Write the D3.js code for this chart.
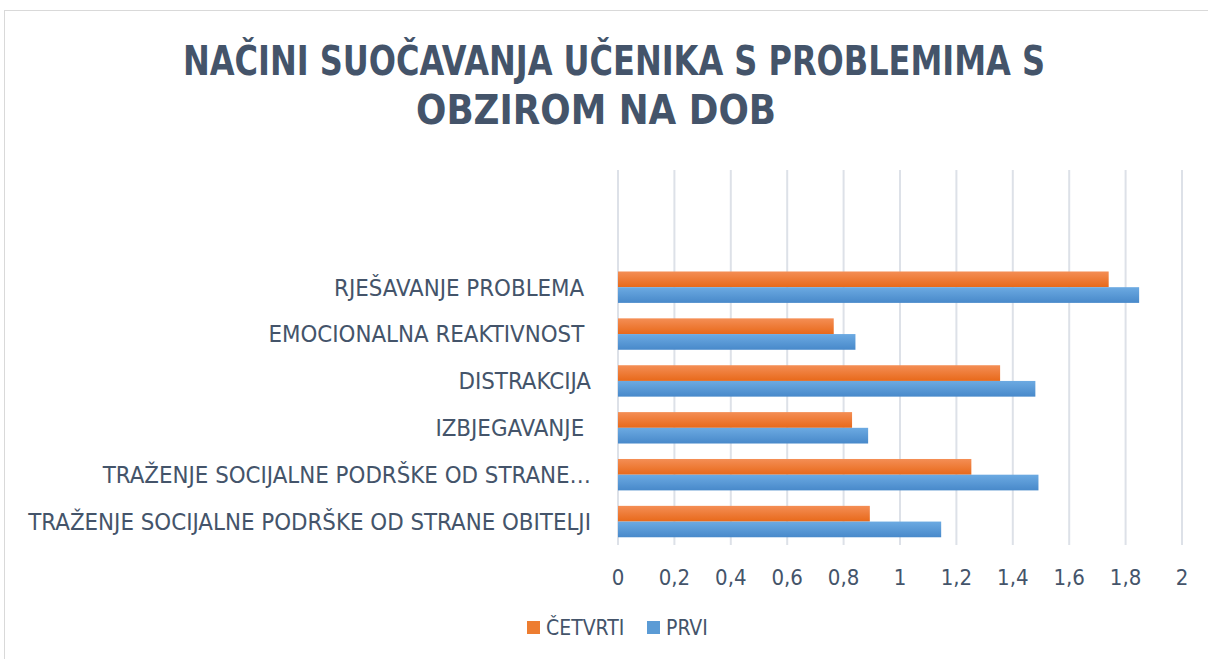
<!DOCTYPE html>
<html>
<head>
<meta charset="utf-8">
<script src="https://d3js.org/d3.v7.min.js"></script>
<title>Načini suočavanja</title>
<style>
  body { margin: 0; background: #fff; }
  text { font-family: "Liberation Sans Narrow", "DejaVu Sans Condensed", sans-serif; }
</style>
</head>
<body>
<svg id="chart" width="1208" height="659"></svg>
<script>
// data
const categories = [
  "RJEŠAVANJE PROBLEMA ",
  "EMOCIONALNA REAKTIVNOST ",
  "DISTRAKCIJA",
  "IZBJEGAVANJE ",
  "TRAŽENJE SOCIJALNE PODRŠKE OD STRANE…",
  "TRAŽENJE SOCIJALNE PODRŠKE OD STRANE OBITELJI"
];
const seriesNames = ["ČETVRTI", "PRVI"];
const cetvrti = [1.74, 0.765, 1.355, 0.83, 1.253, 0.893];
const prvi    = [1.848, 0.842, 1.48, 0.887, 1.491, 1.146];
const xTicks = [0, 0.2, 0.4, 0.6, 0.8, 1, 1.2, 1.4, 1.6, 1.8, 2];
const titleLines = ["NAČINI SUOČAVANJA UČENIKA S PROBLEMIMA S", "OBZIROM NA DOB"];

const svg = d3.select("#chart");
const margin = {top: 170, left: 618, right: 24, bottom: 114};
const W = 1208, H = 659;

// chart frame
svg.append("rect")
   .attr("x", 4.5).attr("y", 10.5)
   .attr("width", 1220).attr("height", 700)
   .attr("fill", "none").attr("stroke", "#D9D9D9");

const defs = svg.append("defs");
const grads = [["gOrange", "#F48E55", "#E8691A"], ["gBlue", "#6CAAE2", "#4889CA"]];
grads.forEach(g => {
  const lg = defs.append("linearGradient").attr("id", g[0])
                 .attr("x1", 0).attr("y1", 0).attr("x2", 0).attr("y2", 1);
  lg.append("stop").attr("offset", "0%").attr("stop-color", g[1]);
  lg.append("stop").attr("offset", "100%").attr("stop-color", g[2]);
});
const fills = ["url(#gOrange)", "url(#gBlue)"];
const legendFills = ["#ED7D31", "#5B9BD5"];

const x = d3.scaleLinear().domain([0, 2]).range([margin.left, W - margin.right - 2]);
// two empty slots at the top of the plot, as in the original
const slots = ["_a", "_b"].concat(categories);
const y = d3.scaleBand().domain(slots).range([margin.top, H - margin.bottom]).paddingInner(0.33).paddingOuter(0.165);
const sub = d3.scaleBand().domain(seriesNames).range([0, y.bandwidth()]);

// gridlines
svg.append("g").selectAll("line")
   .data(xTicks).join("line")
   .attr("x1", d => x(d)).attr("x2", d => x(d))
   .attr("y1", margin.top).attr("y2", H - margin.bottom)
   .attr("stroke", "#DDE1E8").attr("stroke-width", 2);

// bars
const rows = categories.map((c, i) => ({c, vals: [cetvrti[i], prvi[i]]}));
const g = svg.append("g");
rows.forEach(r => {
  g.selectAll(null)
   .data(r.vals).join("rect")
   .attr("x", x(0))
   .attr("y", (d, j) => y(r.c) + sub(seriesNames[j]))
   .attr("width", d => x(d) - x(0))
   .attr("height", sub.bandwidth())
   .attr("fill", (d, j) => fills[j]);
});

// category labels
svg.append("g").selectAll("text")
   .data(categories).join("text")
   .attr("x", margin.left - 27)
   .attr("y", d => y(d) + y.bandwidth() / 2)
   .attr("dy", "0.35em")
   .attr("text-anchor", "end")
   .attr("fill", "#44546A")
   .attr("font-size", 23.8)
   .style("white-space", "pre")
   .text(d => d);

// x tick labels
svg.append("g").selectAll("text")
   .data(xTicks).join("text")
   .attr("x", d => x(d))
   .attr("y", 585)
   .attr("text-anchor", "middle")
   .attr("fill", "#44546A")
   .attr("font-size", 22)
   .text(d => String(d).replace(".", ","));

// title, squeezed to the narrow width of the original face
const titleWidths = [862, 360];
const titleCx = [614, 596];
svg.append("g").selectAll("text")
   .data(titleLines).join("text")
   .attr("x", (d, i) => titleCx[i])
   .attr("y", (d, i) => 75 + i * 49)
   .attr("text-anchor", "middle")
   .attr("fill", "#44546A")
   .attr("font-size", 41)
   .attr("font-weight", "bold")
   .attr("textLength", (d, i) => titleWidths[i])
   .attr("lengthAdjust", "spacingAndGlyphs")
   .text(d => d);

// legend
const leg = svg.append("g");
const legX = [527, 647];
seriesNames.forEach((s, i) => {
  leg.append("rect").attr("x", legX[i]).attr("y", 621).attr("width", 13).attr("height", 13)
     .attr("fill", legendFills[i]);
  leg.append("text").attr("x", legX[i] + 19).attr("y", 635)
     .attr("fill", "#44546A").attr("font-size", 21).text(s);
});
</script>
</body>
</html>
